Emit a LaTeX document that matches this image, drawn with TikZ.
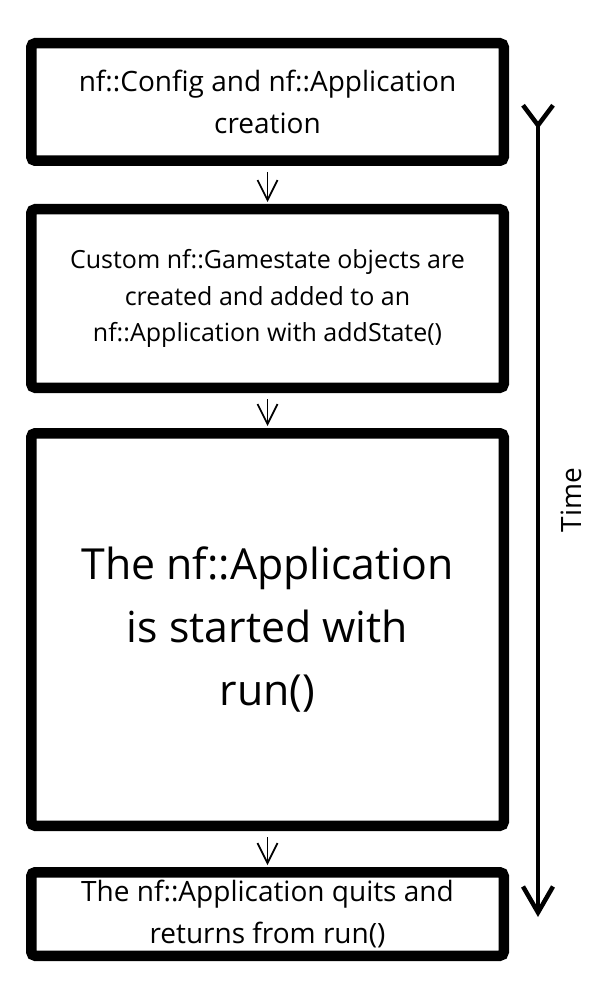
\documentclass[tikz,border=0pt]{standalone}
\usepackage{fontspec}
\setmainfont{Open Sans}
\usetikzlibrary{arrows.meta,positioning}

\tikzset{
  stagebox/.style={draw, line width=5.25pt, rounded corners=2pt, align=center, inner sep=0pt, minimum width=236.25pt},
  flowarrow/.style={line width=0.85pt, -{Straight Barb[length=10pt,width=10pt]}, shorten <=3pt, shorten >=1pt},
  timearrow/.style={line width=2.25pt, line cap=round, {Straight Barb[reversed,length=10pt,width=15pt]}-{Straight Barb[length=13pt,width=15pt]}}
}

\begin{document}
\begin{tikzpicture}[x=0.5pt, y=-0.5pt]
                    % Page frame
                    \useasboundingbox (0,0) rectangle (600,1000);

                    % Stages
                    \node[stagebox, minimum height=58.75pt, font=\fontsize{14}{21}\selectfont] (config) at (267.5,102)
                        {nf::Config and nf::Application\\creation};
                    \node[stagebox, minimum height=89.25pt, font=\fontsize{12.5}{18.25}\selectfont] (states) at (267.5,298.5)
                        {Custom nf::Gamestate objects are\\created and added to an\\nf::Application with addState()};
                    \node[stagebox, minimum height=196.25pt, font=\fontsize{21.4}{31.5}\selectfont] (run) at (267.5,629.5)
                        {The nf::Application\\is started with\\run()};
                    \node[stagebox, minimum height=41.75pt, font=\fontsize{14}{21}\selectfont] (quit) at (267.5,914)
                        {The nf::Application quits and\\returns from run()};

                    % Flow
                    \draw[flowarrow] (config) -- (states);
                    \draw[flowarrow] (states) -- (run);
                    \draw[flowarrow] (run) -- (quit);

                    % Time axis
                    \coordinate (tstart) at (538,103);
                    \coordinate (tend) at (538,917);
                    \draw[timearrow] (tstart) -- (tend);
                    \node[rotate=90, font=\fontsize{14}{21}\selectfont] (time) at (571,500) {Time};
                \end{tikzpicture}
\end{document}
